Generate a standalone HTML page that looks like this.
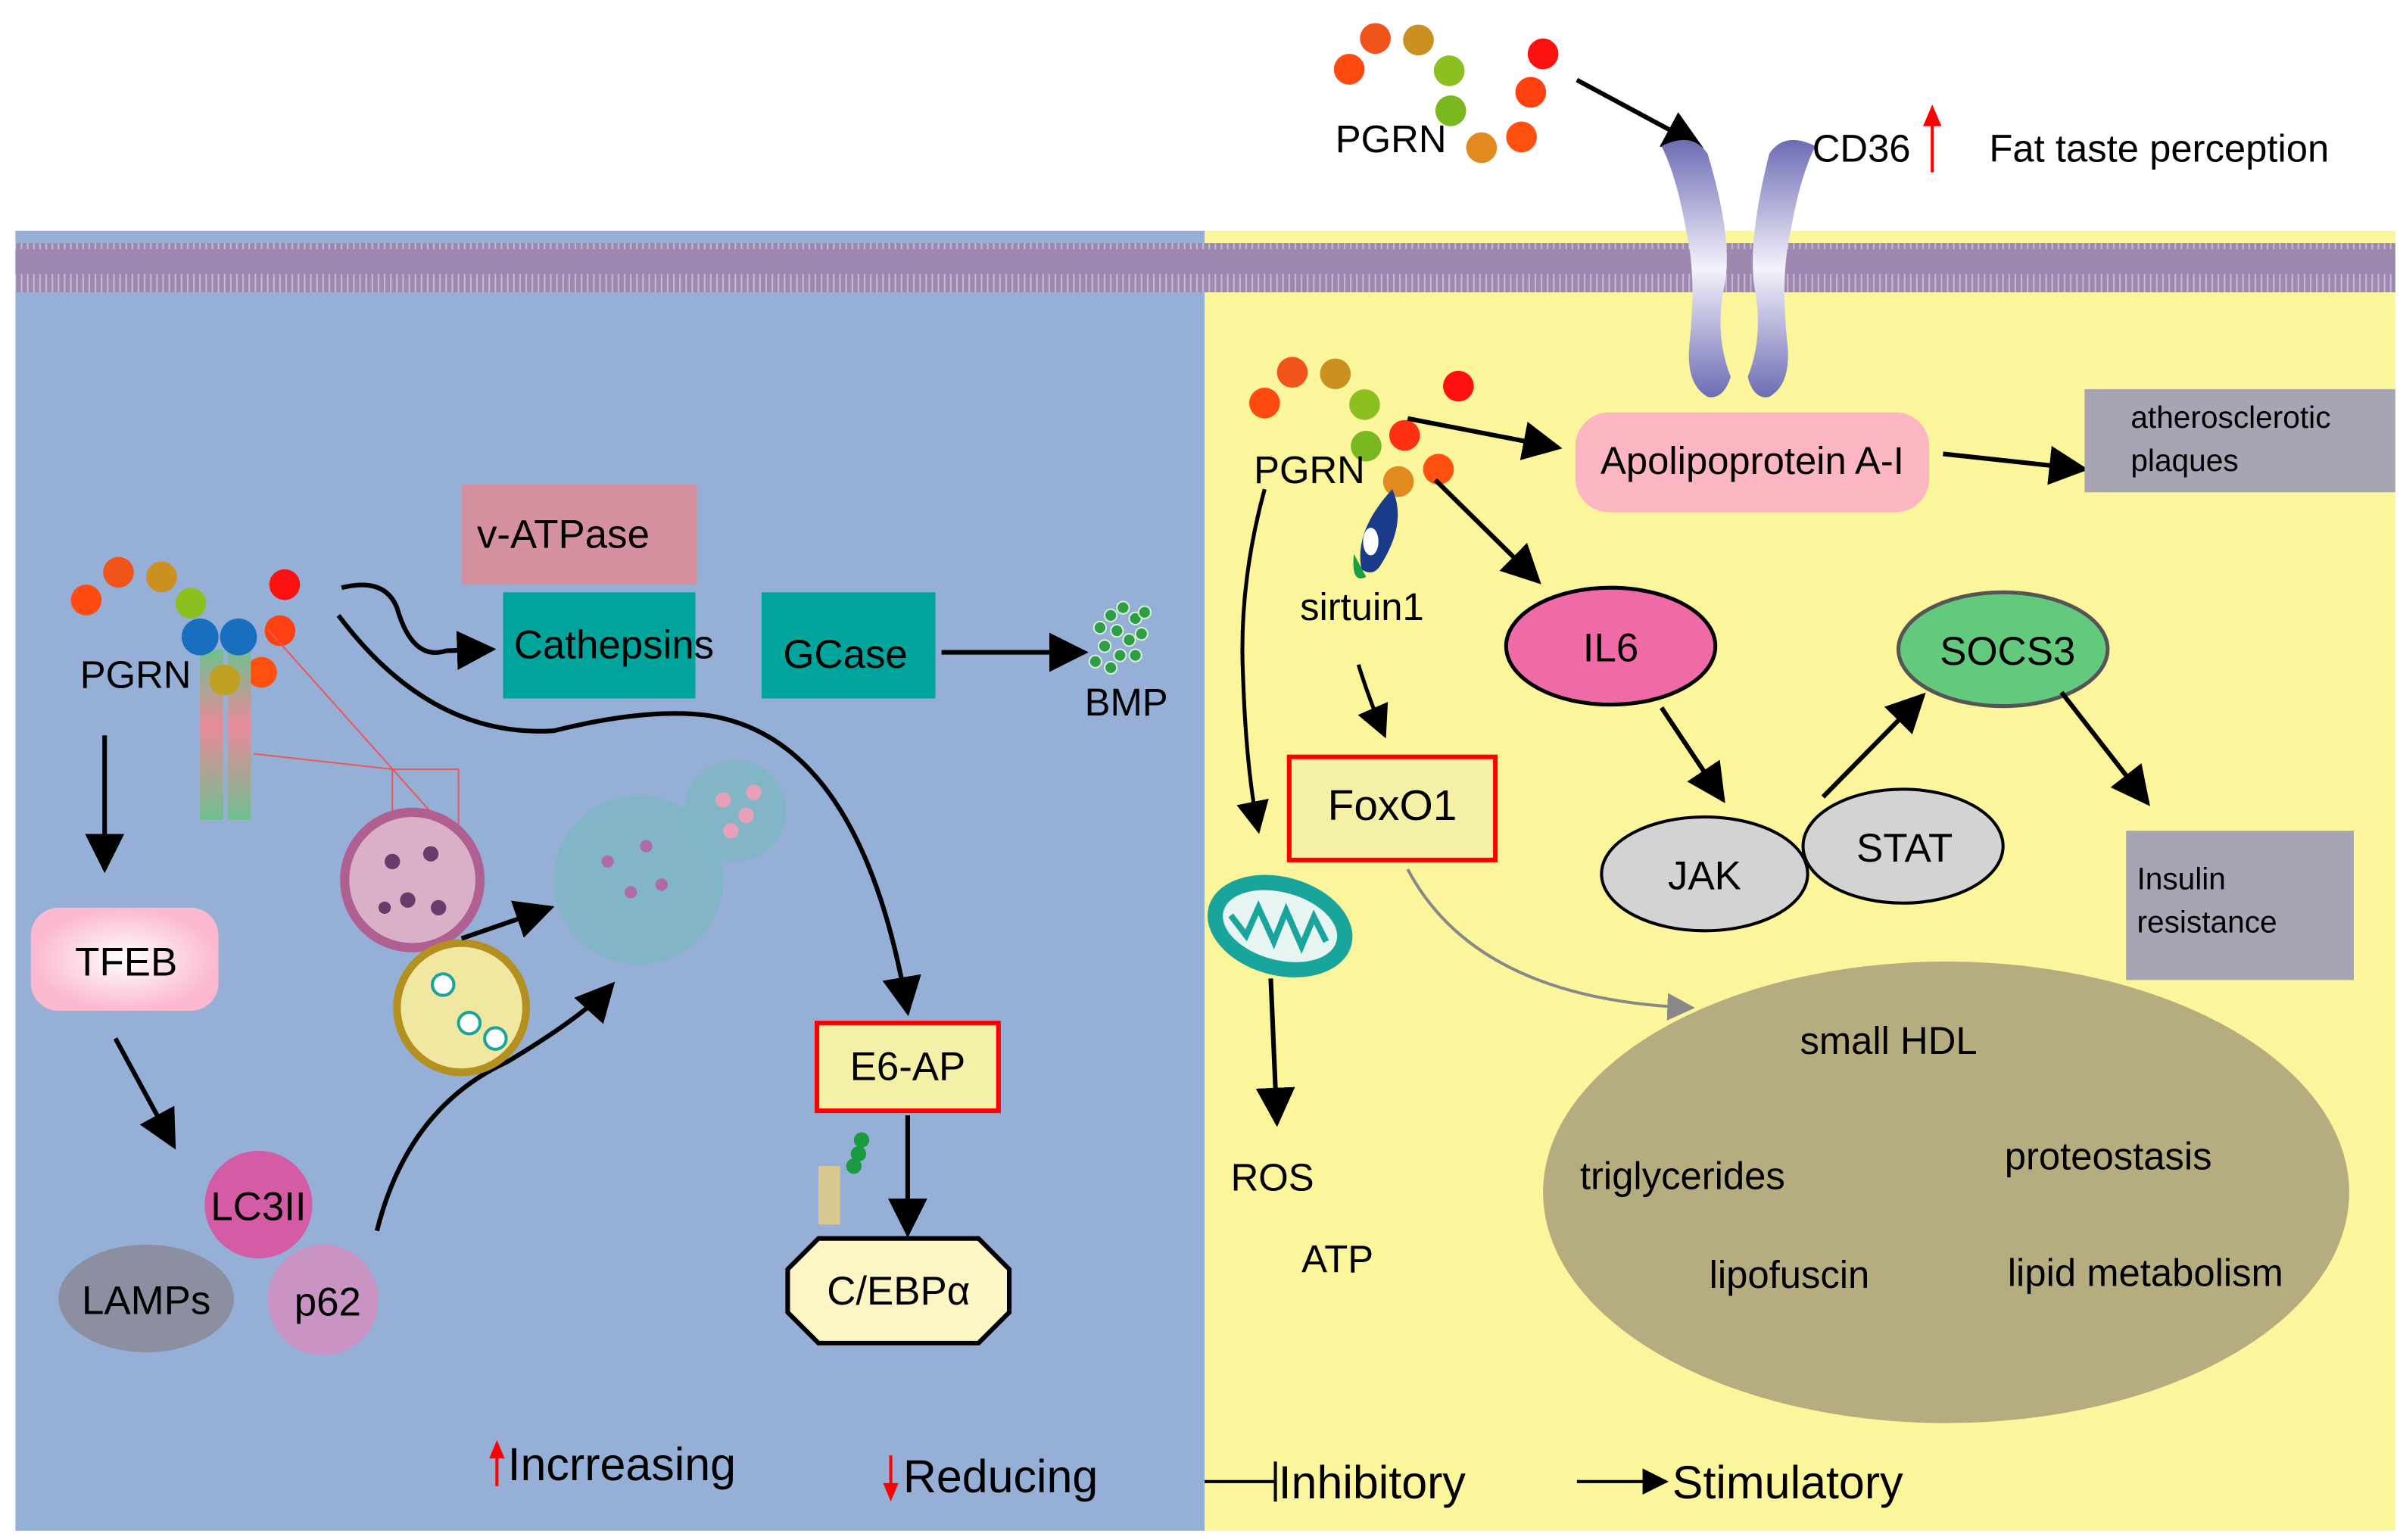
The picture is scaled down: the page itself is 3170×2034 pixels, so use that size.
<!DOCTYPE html>
<html><head><meta charset="utf-8"><style>
html,body{margin:0;padding:0;background:#fff;}
svg{display:block;}
text{font-family:"Liberation Sans",sans-serif;fill:#000;}
</style></head><body>
<svg width="3170" height="2034" viewBox="0 0 1560 1001" xmlns="http://www.w3.org/2000/svg">
<defs>
<marker id="a" viewBox="0 0 10 10" refX="9" refY="5" markerWidth="8.5" markerHeight="8.5" orient="auto"><path d="M0,0L10,5L0,10z" fill="#000"/></marker>
<marker id="ag" viewBox="0 0 10 10" refX="9" refY="5" markerWidth="9" markerHeight="9" orient="auto"><path d="M0,0L10,5L0,10z" fill="#888"/></marker>
<pattern id="mem" width="4" height="34" patternUnits="userSpaceOnUse"><rect width="4" height="34" fill="#9d88b0"/><rect x="1.5" y="8" width="1" height="18" fill="#c7b9d4"/></pattern>
<linearGradient id="cd" x1="0" y1="0" x2="0" y2="1"><stop offset="0" stop-color="#6d6cb4"/><stop offset="0.5" stop-color="#f4f2fb"/><stop offset="1" stop-color="#6d6cb4"/></linearGradient>
<linearGradient id="rc" x1="0" y1="0" x2="0" y2="1"><stop offset="0" stop-color="#6fc08f"/><stop offset="0.45" stop-color="#e98a98"/><stop offset="1" stop-color="#6fc08f"/></linearGradient>
<radialGradient id="tf"><stop offset="0" stop-color="#fff"/><stop offset="1" stop-color="#fbb8cf"/></radialGradient>
</defs>
<rect width="1560" height="1001" fill="#fff"/>
<rect x="10" y="150" width="773" height="845" fill="#95afd6"/>
<rect x="783" y="150" width="774" height="845" fill="#fbf59c"/>
<rect x="10" y="158" width="1547" height="32" fill="url(#mem)"/>

<!-- top PGRN -->
<g>
<circle cx="877" cy="45" r="10" fill="#ff4a10"/><circle cx="894" cy="25" r="10" fill="#f0541a"/><circle cx="922" cy="26" r="10" fill="#cc9020"/><circle cx="942" cy="46" r="10" fill="#8cbf20"/><circle cx="943" cy="72" r="10" fill="#7ab820"/><circle cx="963" cy="96" r="10" fill="#e08a20"/><circle cx="989" cy="89" r="10" fill="#ff5010"/><circle cx="995" cy="60" r="10" fill="#ff4010"/><circle cx="1003" cy="35" r="10" fill="#ff1010"/>
<text x="868" y="99" font-size="25">PGRN</text>
<line x1="1025" y1="52" x2="1105" y2="95" stroke="#000" stroke-width="3" marker-end="url(#a)"/>
</g>
<!-- CD36 -->
<path d="M1080,95 Q1100,85 1110,100 Q1128,160 1120,190 Q1115,220 1125,245 Q1120,260 1110,258 Q1096,250 1098,225 Q1103,180 1096,150 Q1090,115 1080,95z" fill="url(#cd)"/>
<path d="M1180,95 Q1160,85 1150,100 Q1135,160 1141,190 Q1146,220 1136,245 Q1140,260 1150,258 Q1164,250 1162,225 Q1157,180 1164,150 Q1170,115 1180,95z" fill="url(#cd)"/>
<text x="1178" y="105" font-size="25">CD36</text>
<line x1="1256" y1="112" x2="1256" y2="78" stroke="red" stroke-width="2"/><path d="M1250,82L1256,68L1262,82z" fill="red"/>
<text x="1293" y="105" font-size="25">Fat taste perception</text>

<!-- right PGRN -->
<circle cx="822" cy="262" r="10" fill="#ff4a10"/><circle cx="840" cy="242" r="10" fill="#f0541a"/><circle cx="868" cy="243" r="10" fill="#cc9020"/><circle cx="887" cy="263" r="10" fill="#8cbf20"/><circle cx="888" cy="290" r="10" fill="#7ab820"/><circle cx="909" cy="313" r="10" fill="#e08a20"/><circle cx="935" cy="305" r="10" fill="#ff5010"/><circle cx="913" cy="283" r="10" fill="#ff3010"/><circle cx="948" cy="251" r="10" fill="#ff1010"/>
<text x="815" y="314" font-size="25">PGRN</text>
<path d="M905,318 Q880,345 885,370 Q892,375 897,368 Q915,340 905,318z" fill="#1a3a8a"/><ellipse cx="891" cy="352" rx="5" ry="9" fill="#fff"/><path d="M880,360 Q878,380 888,375z" fill="#1aa040"/>
<text x="845" y="403" font-size="25">sirtuin1</text>
<line x1="915" y1="272" x2="1013" y2="291" stroke="#000" stroke-width="3" marker-end="url(#a)"/>
<rect x="1024" y="268" width="230" height="65" rx="22" fill="#fbb6c1"/>
<text x="1139" y="308" font-size="25" text-anchor="middle">Apolipoprotein A-I</text>
<line x1="1263" y1="295" x2="1355" y2="305" stroke="#000" stroke-width="3" marker-end="url(#a)"/>
<rect x="1355" y="253" width="202" height="67" fill="#a7a4b4"/>
<text x="1385" y="278" font-size="20">atherosclerotic</text><text x="1385" y="306" font-size="20">plaques</text>
<line x1="933" y1="312" x2="1000" y2="378" stroke="#000" stroke-width="3" marker-end="url(#a)"/>
<ellipse cx="1047" cy="420" rx="68" ry="38" fill="#f06aa8" stroke="#000" stroke-width="2.5"/>
<text x="1047" y="430" font-size="26" text-anchor="middle">IL6</text>
<ellipse cx="1302" cy="422" rx="68" ry="37" fill="#63c97d" stroke="#555" stroke-width="2.5"/>
<text x="1305" y="432" font-size="26" text-anchor="middle">SOCS3</text>
<path d="M883,432 Q890,455 900,478" fill="none" stroke="#000" stroke-width="2.5" marker-end="url(#a)"/>
<rect x="838" y="492" width="134" height="67" fill="#f5f0a8" stroke="red" stroke-width="3"/>
<text x="905" y="533" font-size="28" text-anchor="middle">FoxO1</text>
<path d="M822,318 Q805,380 808,440 Q810,500 818,540" fill="none" stroke="#000" stroke-width="2.5" marker-end="url(#a)"/>
<ellipse cx="832" cy="602" rx="48" ry="32" fill="#1aa59c" transform="rotate(15 832 602)"/>
<ellipse cx="832" cy="602" rx="38" ry="22" fill="#e6f4f2" transform="rotate(15 832 602)"/>
<path d="M800,595 L810,608 L818,590 L828,612 L836,592 L846,615 L854,596 L862,612" fill="none" stroke="#1aa59c" stroke-width="4"/>
<line x1="826" y1="636" x2="830" y2="730" stroke="#000" stroke-width="3" marker-end="url(#a)"/>
<text x="800" y="774" font-size="25">ROS</text><text x="846" y="827" font-size="25">ATP</text>
<ellipse cx="1108" cy="568" rx="67" ry="37" fill="#d3d3d3" stroke="#000" stroke-width="2"/>
<ellipse cx="1237" cy="550" rx="65" ry="37" fill="#d3d3d3" stroke="#000" stroke-width="2"/>
<text x="1108" y="578" font-size="26" text-anchor="middle">JAK</text>
<text x="1238" y="560" font-size="26" text-anchor="middle">STAT</text>
<line x1="1080" y1="460" x2="1120" y2="520" stroke="#000" stroke-width="3" marker-end="url(#a)"/>
<line x1="1185" y1="518" x2="1250" y2="452" stroke="#000" stroke-width="3" marker-end="url(#a)"/>
<line x1="1340" y1="450" x2="1396" y2="522" stroke="#000" stroke-width="3" marker-end="url(#a)"/>
<rect x="1382" y="540" width="148" height="97" fill="#a7a4b4"/>
<text x="1389" y="578" font-size="20">Insulin</text><text x="1389" y="606" font-size="20">resistance</text>
<ellipse cx="1265" cy="775" rx="262" ry="150" fill="#b5ad7f"/>
<path d="M915,565 Q960,650 1100,655" fill="none" stroke="#888" stroke-width="2" marker-end="url(#ag)"/>
<g font-size="25"><text x="1170" y="685">small HDL</text><text x="1027" y="773">triglycerides</text><text x="1303" y="760">proteostasis</text><text x="1111" y="837">lipofuscin</text><text x="1305" y="836">lipid metabolism</text></g>

<!-- left -->
<rect x="300" y="315" width="153" height="65" fill="#d590a0"/>
<text x="310" y="356" font-size="26">v-ATPase</text>
<rect x="327" y="385" width="125" height="69" fill="#00a49a"/>
<text x="334" y="428" font-size="26">Cathepsins</text>
<rect x="495" y="385" width="113" height="69" fill="#00a49a"/>
<text x="509" y="434" font-size="26">GCase</text>
<line x1="612" y1="424" x2="705" y2="424" stroke="#000" stroke-width="3" marker-end="url(#a)"/>
<g fill="#2e9e46" stroke="#d8f0d8" stroke-width="1">
<circle cx="715" cy="408" r="4"/><circle cx="722" cy="400" r="4"/><circle cx="730" cy="395" r="4"/><circle cx="738" cy="402" r="4"/><circle cx="726" cy="410" r="4"/><circle cx="734" cy="416" r="4"/><circle cx="742" cy="412" r="4"/><circle cx="718" cy="420" r="4"/><circle cx="728" cy="426" r="4"/><circle cx="738" cy="426" r="4"/><circle cx="712" cy="430" r="4"/><circle cx="722" cy="434" r="4"/><circle cx="744" cy="398" r="4"/></g>
<text x="705" y="465" font-size="25">BMP</text>
<circle cx="56" cy="390" r="10" fill="#ff4a10"/><circle cx="77" cy="372" r="10" fill="#f0541a"/><circle cx="105" cy="375" r="10" fill="#cc9020"/><circle cx="124" cy="392" r="10" fill="#8cbf20"/><circle cx="185" cy="380" r="10" fill="#ff1010"/><circle cx="182" cy="410" r="10" fill="#ff4010"/><circle cx="170" cy="437" r="10" fill="#ff5010"/>
<rect x="130" y="422" width="15" height="111" fill="url(#rc)"/><rect x="148" y="422" width="15" height="111" fill="url(#rc)"/>
<circle cx="130" cy="414" r="12" fill="#1a6ec0"/><circle cx="155" cy="414" r="12" fill="#1a6ec0"/><circle cx="146" cy="442" r="10" fill="#c0a020"/>
<text x="52" y="447" font-size="25">PGRN</text>
<path d="M174,409 L298,548 M165,490 L255,500 L298,500 L298,548 L255,548 L255,500" fill="none" stroke="#e55" stroke-width="1"/>
<path d="M222,382 Q250,375 258,395 Q268,430 290,423 L320,422" fill="none" stroke="#000" stroke-width="3" marker-end="url(#a)"/>
<path d="M220,400 Q280,480 360,475 Q420,460 460,465 Q560,480 590,658" fill="none" stroke="#000" stroke-width="3" marker-end="url(#a)"/>
<line x1="68" y1="478" x2="68" y2="565" stroke="#000" stroke-width="3" marker-end="url(#a)"/>
<rect x="20" y="590" width="122" height="67" rx="18" fill="url(#tf)"/>
<text x="82" y="634" font-size="26" text-anchor="middle">TFEB</text>
<line x1="75" y1="675" x2="113" y2="745" stroke="#000" stroke-width="3" marker-end="url(#a)"/>
<circle cx="168" cy="783" r="35" fill="#d35ca5"/><text x="168" y="793" font-size="26" text-anchor="middle">LC3II</text>
<ellipse cx="95" cy="844" rx="57" ry="35" fill="#8c8fa0"/><text x="95" y="854" font-size="26" text-anchor="middle">LAMPs</text>
<circle cx="210" cy="845" r="36" fill="#c993c4"/><text x="213" y="855" font-size="26" text-anchor="middle">p62</text>
<path d="M245,800 Q265,720 330,690 Q380,660 398,640" fill="none" stroke="#000" stroke-width="3" marker-end="url(#a)"/>
<circle cx="268" cy="572" r="44" fill="#d9b0c8" stroke="#b06090" stroke-width="6"/>
<g fill="#6a3a6a"><circle cx="255" cy="560" r="5"/><circle cx="280" cy="555" r="5"/><circle cx="265" cy="585" r="5"/><circle cx="285" cy="590" r="5"/><circle cx="250" cy="590" r="4"/></g>
<circle cx="300" cy="655" r="42" fill="#f0e8a0" stroke="#b49020" stroke-width="5"/>
<circle cx="288" cy="640" r="7" fill="#fff" stroke="#1aa59c" stroke-width="2"/><circle cx="305" cy="665" r="7" fill="#fff" stroke="#1aa59c" stroke-width="2"/><circle cx="322" cy="675" r="7" fill="#fff" stroke="#1aa59c" stroke-width="2"/>
<line x1="300" y1="610" x2="358" y2="590" stroke="#000" stroke-width="3" marker-end="url(#a)"/>
<circle cx="415" cy="572" r="55" fill="#7fb7c4" opacity="0.9"/>
<circle cx="478" cy="527" r="33" fill="#7fb7c4" opacity="0.9"/>
<g fill="#e8a0b8"><circle cx="470" cy="520" r="5"/><circle cx="485" cy="530" r="5"/><circle cx="475" cy="540" r="5"/><circle cx="490" cy="515" r="5"/></g>
<g fill="#b06aa8"><circle cx="395" cy="560" r="4"/><circle cx="420" cy="550" r="4"/><circle cx="410" cy="580" r="4"/><circle cx="430" cy="575" r="4"/></g>
<rect x="531" y="665" width="118" height="57" fill="#f5f0a8" stroke="red" stroke-width="3"/>
<text x="590" y="702" font-size="26" text-anchor="middle">E6-AP</text>
<line x1="590" y1="725" x2="590" y2="802" stroke="#000" stroke-width="3" marker-end="url(#a)"/>
<rect x="532" y="758" width="14" height="38" fill="#d8c890"/><circle cx="560" cy="741" r="5" fill="#1a9a40"/><circle cx="558" cy="750" r="5" fill="#1a9a40"/><circle cx="555" cy="758" r="5" fill="#1a9a40"/>
<path d="M532,805 L636,805 L656,825 L656,853 L636,873 L532,873 L512,853 L512,825z" fill="#fdf5c4" stroke="#000" stroke-width="3"/>
<text x="584" y="848" font-size="26" text-anchor="middle">C/EBPα</text>

<!-- legend -->
<line x1="323" y1="966" x2="323" y2="945" stroke="red" stroke-width="2"/><path d="M318,948L323,936L328,948z" fill="red"/>
<text x="330" y="962" font-size="30">Incrreasing</text>
<line x1="579" y1="946" x2="579" y2="968" stroke="red" stroke-width="2"/><path d="M574,964L579,976L584,964z" fill="red"/>
<text x="587" y="970" font-size="30">Reducing</text>
<line x1="783" y1="963" x2="828" y2="963" stroke="#000" stroke-width="2"/><line x1="829" y1="950" x2="829" y2="976" stroke="#000" stroke-width="2"/>
<text x="831" y="974" font-size="30">Inhibitory</text>
<line x1="1025" y1="963" x2="1083" y2="963" stroke="#000" stroke-width="2" marker-end="url(#a)"/>
<text x="1087" y="974" font-size="30">Stimulatory</text>
</svg>
</body></html>
